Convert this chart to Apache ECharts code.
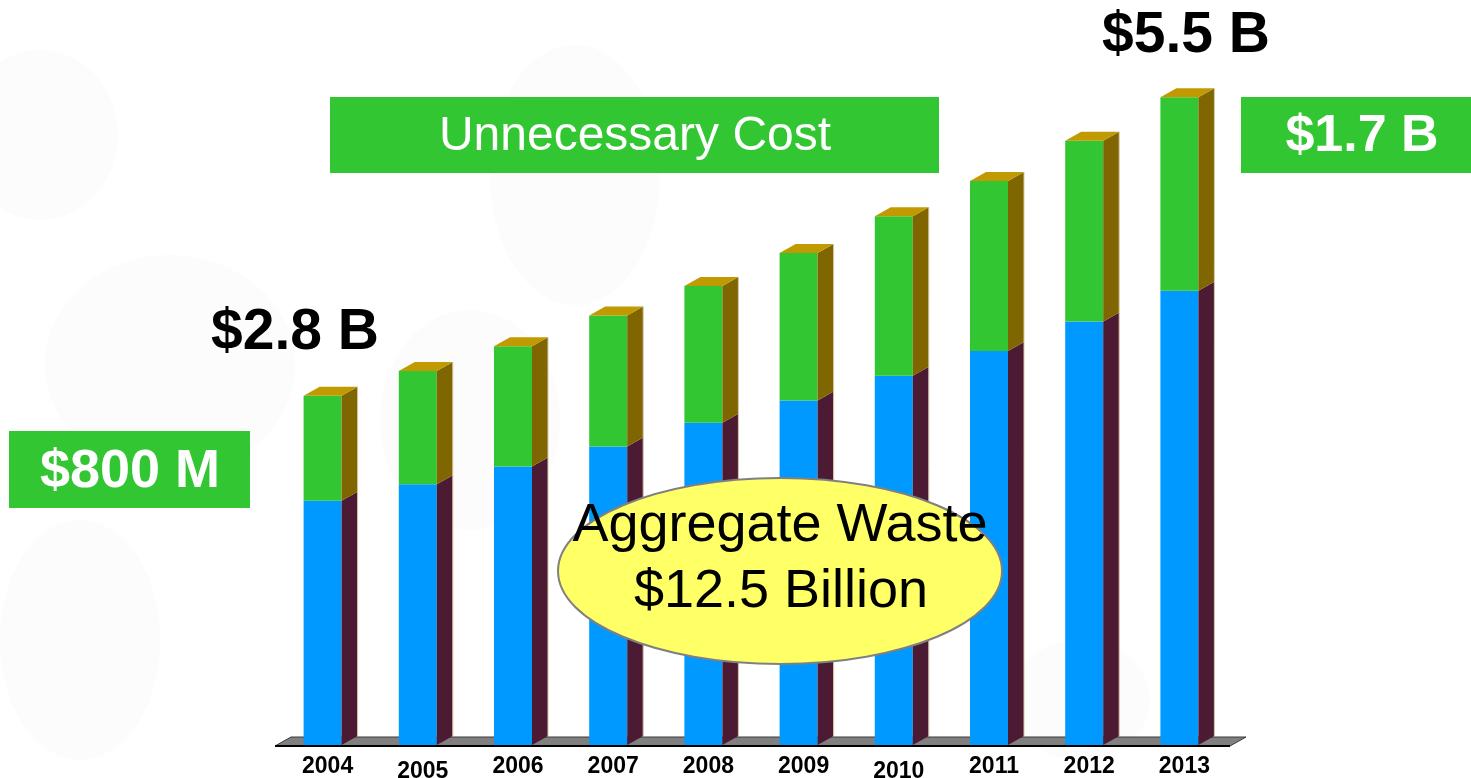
<!DOCTYPE html>
<html>
<head>
<meta charset="utf-8">
<title>Aggregate Waste</title>
<script src="https://cdn.jsdelivr.net/npm/echarts@6/dist/echarts.min.js"></script>
<style>
  html, body { margin: 0; padding: 0; background: #fff; }
  #chart { width: 1471px; height: 778px; }
</style>
</head>
<body>
<div id="chart"></div>
<script>
// values in billions of dollars
var years = ['2004', '2005', '2006', '2007', '2008', '2009', '2010', '2011', '2012', '2013'];
var necessary = [2.07, 2.21, 2.36, 2.53, 2.73, 2.92, 3.13, 3.34, 3.59, 3.85];
var unnecessary = [0.89, 0.96, 1.02, 1.11, 1.16, 1.25, 1.35, 1.44, 1.53, 1.64];
var lowLabels = ['2005', '2010'];

var DX = 16, DY = 9, FRONT_W = 38;

var barData = years.map(function (y, i) {
  return [i, necessary[i], unnecessary[i]];
});

function renderBar(params, api) {
  var i = api.value(0);
  var blue = api.value(1);
  var green = api.value(2);
  var base = api.coord([i, 0]);
  var mid = api.coord([i, blue]);
  var top = api.coord([i, blue + green]);
  var x0 = base[0] - FRONT_W / 2;
  var x1 = base[0] + FRONT_W / 2;
  return {
    type: 'group',
    children: [
      { type: 'rect', shape: { x: x0, y: mid[1], width: FRONT_W, height: base[1] - mid[1] }, style: { fill: '#0099ff' } },
      { type: 'polygon', shape: { points: [[x1, base[1]], [x1 + DX, base[1] - DY], [x1 + DX, mid[1] - DY], [x1, mid[1]]] },
        style: { fill: '#4d1a33' } },
      { type: 'rect', shape: { x: x0, y: top[1], width: FRONT_W, height: mid[1] - top[1] }, style: { fill: '#33c633' } },
      { type: 'polygon', shape: { points: [[x1, mid[1]], [x1 + DX, mid[1] - DY], [x1 + DX, top[1] - DY], [x1, top[1]]] },
        style: { fill: '#806600' } },
      { type: 'polygon', shape: { points: [[x0, top[1]], [x0 + DX, top[1] - DY], [x1 + DX, top[1] - DY], [x1, top[1]]] },
        style: { fill: '#c09a00' } },
      { type: 'line', shape: { x1: x1 + DX, y1: top[1] - DY, x2: x1 + DX, y2: base[1] - DY },
        style: { stroke: '#d8c8a8', lineWidth: 1 } }
    ]
  };
}

// grey floor under the bars
function renderFloor(params, api) {
  var cs = params.coordSys;
  var by = cs.y + cs.height + 1;
  var lx = cs.x, rx = cs.x + cs.width + 3;
  return {
    type: 'group',
    children: [
      { type: 'polygon', shape: { points: [[lx, by], [rx, by], [rx + DX, by - DY], [lx + DX, by - DY]] },
        style: { fill: '#808080', stroke: '#3a3a3a', lineWidth: 1 } },
      { type: 'line', shape: { x1: lx, y1: by, x2: rx, y2: by }, style: { stroke: '#000', lineWidth: 2 } }
    ]
  };
}

var blobs = [
  [40, 135, 78, 85], [170, 365, 125, 110], [80, 640, 80, 120],
  [575, 175, 85, 130], [470, 420, 90, 110], [1080, 700, 70, 60]
];

var chart = echarts.init(document.getElementById('chart'));
chart.setOption({
  animation: false,
  backgroundColor: '#fff',
  grid: { left: 275, width: 952, top: 37, bottom: 33, outerBoundsMode: 'none', containLabel: false },
  xAxis: {
    type: 'category',
    data: years,
    axisLine: { show: false },
    axisTick: { show: false },
    axisLabel: {
      margin: 10,
      padding: [0, 0, 0, 10],
      formatter: function (v) {
        return lowLabels.indexOf(v) >= 0 ? '{lo|' + v + '}' : '{n|' + v + '}';
      },
      rich: {
        n: { fontFamily: 'Liberation Sans', fontWeight: 'bold', fontSize: 23, color: '#000' },
        lo: { fontFamily: 'Liberation Sans', fontWeight: 'bold', fontSize: 23, color: '#000', padding: [5, 0, 0, 0] }
      }
    }
  },
  yAxis: { type: 'value', min: 0, max: 6, show: false, splitLine: { show: false } },
  series: [
    { type: 'custom', name: 'floor', renderItem: renderFloor, data: [[0]], z: 1, silent: true },
    { type: 'custom', name: 'cost', renderItem: renderBar, data: barData, z: 2,
      encode: { x: 0, y: [1, 2] } }
  ],
  graphic: blobs.map(function (b) {
    return { type: 'ellipse', z: -10, shape: { cx: b[0], cy: b[1], rx: b[2], ry: b[3] }, style: { fill: '#fcfcfc' } };
  }).concat([
    { type: 'rect', z: 100, shape: { x: 330, y: 97, width: 609, height: 76 }, style: { fill: '#33c633' } },
    { type: 'text', z: 101, x: 635, y: 137, style: { text: 'Unnecessary Cost', fill: '#fff', font: '48px "Liberation Sans"', align: 'center', verticalAlign: 'middle' } },
    { type: 'rect', z: 100, shape: { x: 1241, y: 97, width: 230, height: 76 }, style: { fill: '#33c633' } },
    { type: 'text', z: 101, x: 1362, y: 137, style: { text: '$1.7 B', fill: '#fff', font: 'bold 52px "Liberation Sans"', align: 'center', verticalAlign: 'middle' } },
    { type: 'rect', z: 100, shape: { x: 9, y: 431, width: 241, height: 77 }, style: { fill: '#33c633' } },
    { type: 'text', z: 101, x: 130, y: 472, style: { text: '$800 M', fill: '#fff', font: 'bold 54px "Liberation Sans"', align: 'center', verticalAlign: 'middle' } },
    { type: 'text', z: 101, x: 295, y: 333, style: { text: '$2.8 B', fill: '#000', font: 'bold 57px "Liberation Sans"', align: 'center', verticalAlign: 'middle' } },
    { type: 'text', z: 101, x: 1186, y: 36, style: { text: '$5.5 B', fill: '#000', font: 'bold 57px "Liberation Sans"', align: 'center', verticalAlign: 'middle' } },
    { type: 'ellipse', z: 100, shape: { cx: 780, cy: 571, rx: 222, ry: 93 }, style: { fill: '#ffff66', stroke: '#808080', lineWidth: 2 } },
    { type: 'text', z: 101, x: 780, y: 526, style: { text: 'Aggregate Waste', fill: '#000', font: '54px "Liberation Sans"', align: 'center', verticalAlign: 'middle' } },
    { type: 'text', z: 101, x: 781, y: 592, style: { text: '$12.5 Billion', fill: '#000', font: '54px "Liberation Sans"', align: 'center', verticalAlign: 'middle' } }
  ])
});

window.addEventListener('resize', function () { chart.resize(); });
</script>
</body>
</html>
